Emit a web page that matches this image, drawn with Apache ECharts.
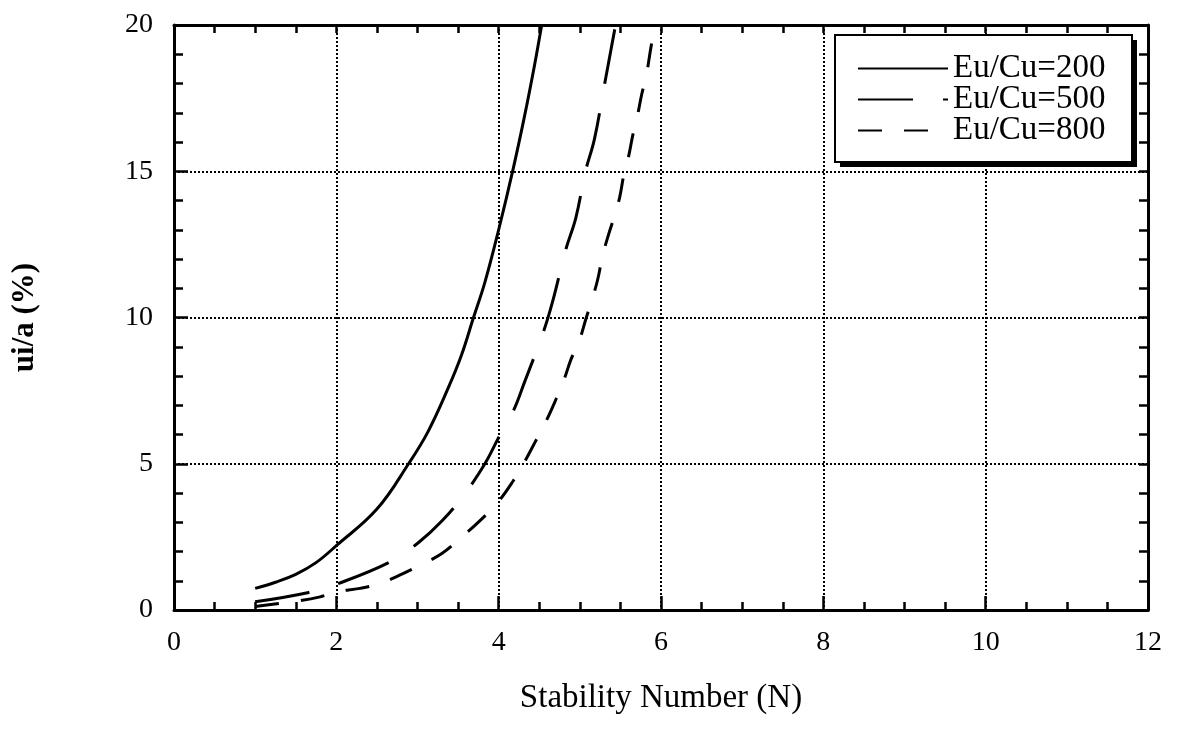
<!DOCTYPE html>
<html>
<head>
<meta charset="utf-8">
<script src="https://cdn.jsdelivr.net/npm/echarts@6/dist/echarts.min.js"></script>
<style>html,body{margin:0;padding:0;background:#fff}#c{width:1177px;height:736px}</style>
</head>
<body>
<div id="c"></div>
<script>
// Data
const seriesNames = ['Eu/Cu=200', 'Eu/Cu=500', 'Eu/Cu=800'];
const s200 = [[1.0,0.74],[1.25,0.95],[1.5,1.22],[1.75,1.62],[2.0,2.2],[2.5,3.45],[2.89,5.0],[3.13,6.1],[3.38,7.6],[3.54,8.7],[3.69,10.0],[3.83,11.2],[4.0,13.0],[4.18,15.1],[4.32,16.9],[4.44,18.6],[4.53,20]];
const s500 = [[1.0,0.28],[1.66,0.6],[2.0,0.88],[2.66,1.64],[3.01,2.3],[3.3,3.04],[3.58,3.97],[3.83,5.0],[4.0,5.9],[4.18,6.8],[4.32,7.8],[4.55,9.5],[4.66,10.5],[4.83,12.35],[4.95,13.4],[5.07,15],[5.18,16.1],[5.3,17.9],[5.44,20]];
const s800 = [[1.0,0.12],[1.5,0.3],[1.8,0.45],[2.0,0.62],[2.29,0.74],[2.54,0.91],[2.78,1.19],[3.01,1.5],[3.3,1.93],[3.53,2.46],[3.78,3.08],[4.0,3.72],[4.18,4.42],[4.32,5.07],[4.46,5.8],[4.59,6.49],[4.71,7.23],[4.81,7.91],[4.89,8.56],[4.99,9.18],[5.08,10.0],[5.16,10.7],[5.22,11.3],[5.28,12.1],[5.35,12.8],[5.43,13.5],[5.49,14.1],[5.55,15.0],[5.6,15.5],[5.65,16.2],[5.71,16.9],[5.76,17.6],[5.82,18.3],[5.88,19.3],[5.93,20]];
const xTicks = {min: 0, max: 12, interval: 2};
const yTicks = {min: 0, max: 20, interval: 5};
const xTitle = 'Stability Number (N)';
const yTitle = 'ui/a (%)';

const serif = 'Liberation Serif';
const black = '#000';
const chart = echarts.init(document.getElementById('c'), null, {renderer: 'canvas'});

function axisBase(extra) {
  return Object.assign({
    type: 'value',
    axisLine: {show: true, onZero: false, lineStyle: {color: black, width: 3}},
    axisTick: {show: true, inside: true, length: 14, lineStyle: {color: black, width: 2.5}},
    minorTick: {show: true, length: 8, lineStyle: {color: black, width: 2.5}},
    splitLine: {show: false},
    axisLabel: {show: false}
  }, extra);
}

const lineDash = [null, [55, 30], [24, 22]];
const datas = [s200, s500, s800];

chart.setOption({
  backgroundColor: '#fff',
  animation: false,
  grid: {left: 174, right: 29, top: 25, bottom: 126, containLabel: false},
  graphic: [
    {type: 'rect', z: 3, shape: {x: 840, y: 40, width: 297, height: 127}, style: {fill: black}},
    {type: 'rect', z: 3, shape: {x: 835, y: 35, width: 297, height: 127}, style: {fill: '#fff', stroke: black, lineWidth: 2}}
  ],
  legend: {
    orient: 'vertical',
    left: 857, top: 52,
    padding: 0,
    z: 5,
    itemWidth: 90, itemHeight: 14, itemGap: -2,
    itemStyle: {opacity: 0, borderWidth: 0},
    textStyle: {fontFamily: serif, fontSize: 33, color: black},
    data: seriesNames
  },
  xAxis: [
    axisBase({
      min: xTicks.min, max: xTicks.max, interval: xTicks.interval, position: 'bottom',
      minorTick: {show: true, splitNumber: 4, length: 8, lineStyle: {color: black, width: 2.5}},
      splitLine: {show: true, lineStyle: {color: black, width: 2, type: [2, 2]}},
      axisLabel: {show: true, fontFamily: serif, fontSize: 28, color: black, margin: 19},
      name: xTitle, nameLocation: 'middle', nameGap: 72,
      nameTextStyle: {fontFamily: serif, fontSize: 33, color: black}
    }),
    axisBase({
      min: xTicks.min, max: xTicks.max, interval: xTicks.interval, position: 'top',
      axisTick: {show: true, inside: true, length: 8, lineStyle: {color: black, width: 2.5}},
      minorTick: {show: true, splitNumber: 4, length: 8, lineStyle: {color: black, width: 2.5}}
    })
  ],
  yAxis: [
    axisBase({
      min: yTicks.min, max: yTicks.max, interval: yTicks.interval, position: 'left',
      minorTick: {show: true, splitNumber: 5, length: 9, lineStyle: {color: black, width: 2.5}},
      splitLine: {show: true, lineStyle: {color: black, width: 2, type: [2, 2]}},
      axisLabel: {show: true, fontFamily: serif, fontSize: 28, color: black, margin: 21},
      name: yTitle, nameLocation: 'middle', nameGap: 134, nameRotate: 90,
      nameTextStyle: {fontFamily: serif, fontSize: 31, fontWeight: 'bold', color: black}
    }),
    axisBase({
      min: yTicks.min, max: yTicks.max, interval: yTicks.interval, position: 'right',
      axisTick: {show: true, inside: true, length: 9, lineStyle: {color: black, width: 2.5}},
      minorTick: {show: true, splitNumber: 5, length: 9, lineStyle: {color: black, width: 2.5}}
    })
  ],
  series: seriesNames.map((n, i) => ({
    name: n,
    type: 'line',
    xAxisIndex: 0, yAxisIndex: 0,
    data: datas[i],
    smooth: 0.4,
    symbol: 'none',
    showSymbol: false,
    clip: true,
    color: black,
    lineStyle: {color: black, width: 3, type: lineDash[i] || 'solid'}
  }))
});
</script>
</body>
</html>
